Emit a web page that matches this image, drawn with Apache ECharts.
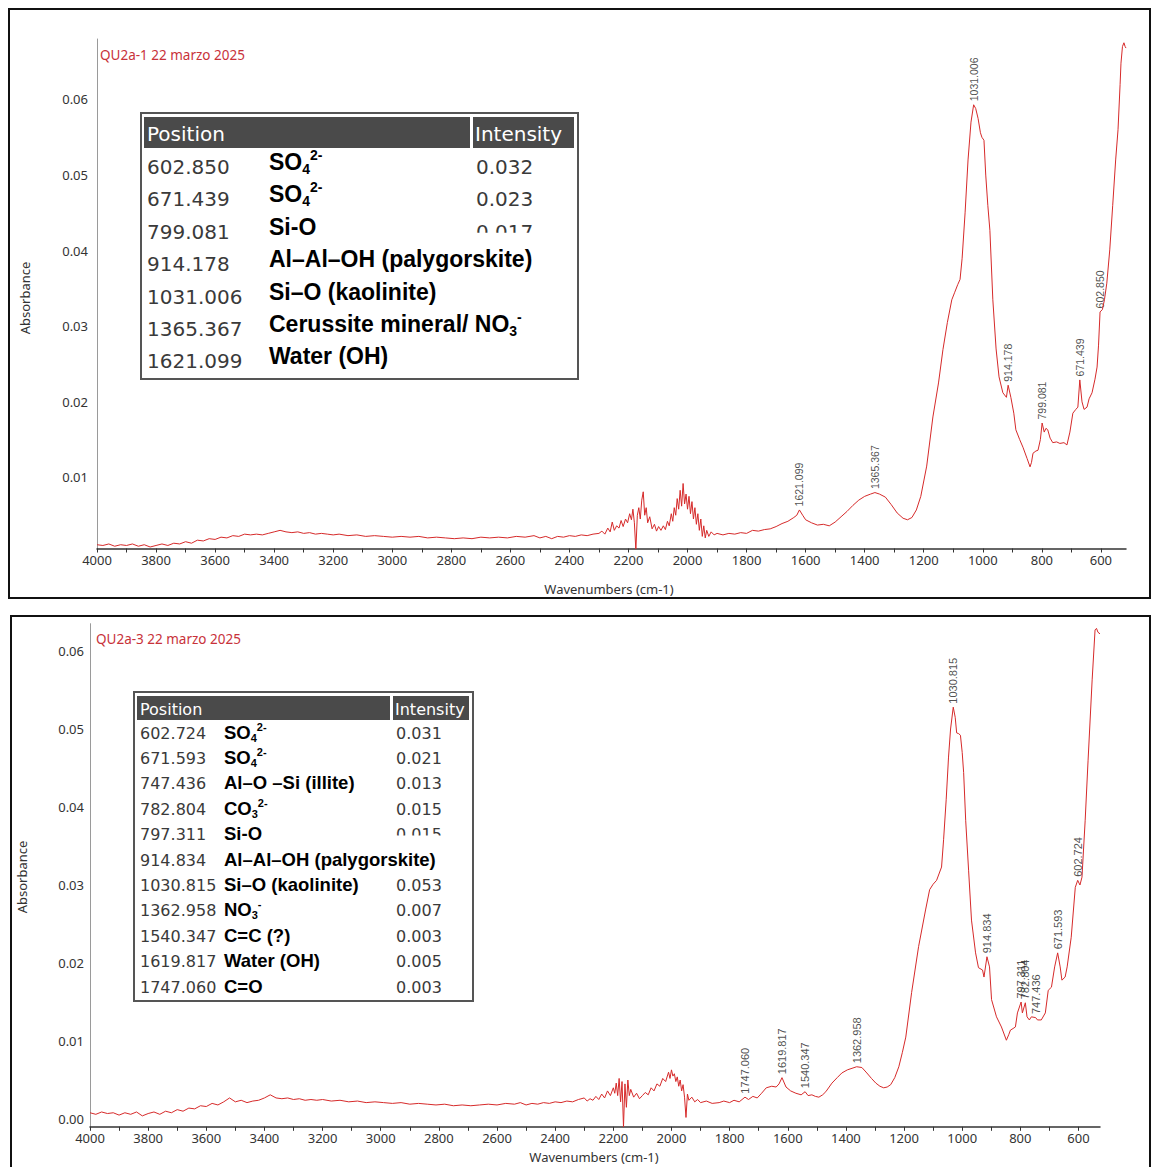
<!DOCTYPE html>
<html><head><meta charset="utf-8">
<script src="https://cdn.jsdelivr.net/npm/echarts@6/dist/echarts.min.js"></script>
<style>html,body{margin:0;padding:0;background:#fff}#c{width:1151px;height:1167px}</style>
</head><body><div id="c"></div>
<script>
// ---------- text ----------
const topTitle = 'QU2a-1 22 marzo 2025';
const botTitle = 'QU2a-3 22 marzo 2025';
const xAxisTitle = 'Wavenumbers (cm-1)';
const yAxisTitle = 'Absorbance';
const xTickLabels = [4000,3800,3600,3400,3200,3000,2800,2600,2400,2200,2000,1800,1600,1400,1200,1000,800,600];
const xTickMarks = [4000,3900,3800,3700,3600,3500,3400,3300,3200,3100,3000,2900,2800,2700,2600,2500,2400,2300,2200,2100,2000,1900,1800,1700,1600,1500,1400,1300,1200,1100,1000,900,800,700,600];
const yTickLabelsTop = [0.01,0.02,0.03,0.04,0.05,0.06];
const yTickLabelsBot = [0,0.01,0.02,0.03,0.04,0.05,0.06];

// ---------- spectrum QU2a-1 [wavenumber, absorbance] ----------
const topSpectrum = [
[4000,0.0011],[3980,0.0010],[3960,0.0012],[3940,0.0009],[3920,0.0011],[3900,0.0010],[3880,0.0012],[3860,0.0009],[3840,0.0011],[3820,0.0008],
[3800,0.0010],[3780,0.0012],[3760,0.0010],[3740,0.0013],[3720,0.0012],[3700,0.0015],[3680,0.0013],[3660,0.0017],[3640,0.0016],[3620,0.0019],
[3600,0.0018],[3580,0.0021],[3560,0.0020],[3540,0.0023],[3520,0.0022],[3500,0.0025],[3480,0.0024],[3460,0.0025],[3440,0.0024],[3420,0.0026],
[3400,0.0028],[3380,0.0030],[3360,0.0028],[3340,0.0027],[3320,0.0028],[3300,0.0026],[3280,0.0027],[3260,0.0025],[3240,0.0026],[3220,0.0025],
[3200,0.0024],[3180,0.0025],[3150,0.0023],[3120,0.0024],[3090,0.0022],[3060,0.0023],[3030,0.0022],[3000,0.0021],[2970,0.0022],[2940,0.0021],
[2910,0.0022],[2880,0.0020],[2850,0.0021],[2820,0.0020],[2790,0.0019],[2760,0.0020],[2730,0.0019],[2700,0.0021],[2670,0.0020],[2640,0.0021],
[2610,0.0020],[2580,0.0022],[2550,0.0021],[2520,0.0023],[2500,0.0020],[2480,0.0022],[2460,0.0019],[2440,0.0022],[2420,0.0021],[2400,0.0023],
[2380,0.0022],[2360,0.0024],[2340,0.0023],[2320,0.0025],[2300,0.0026],[2290,0.0029],[2280,0.0025],[2270,0.0033],[2262,0.0028],[2255,0.0041],
[2248,0.0030],[2240,0.0036],[2232,0.0033],[2225,0.0043],[2218,0.0035],[2210,0.0045],[2203,0.0040],[2196,0.0052],[2190,0.0044],[2185,0.0058],
[2180,0.0040],[2175,0.0004],[2170,0.0050],[2165,0.0060],[2160,0.0045],[2155,0.0070],[2150,0.0081],[2145,0.0050],[2140,0.0060],[2135,0.0040],
[2128,0.0048],[2120,0.0032],[2112,0.0038],[2105,0.0029],[2098,0.0035],[2090,0.0030],[2082,0.0036],[2075,0.0031],[2068,0.0042],[2062,0.0036],
[2055,0.0052],[2050,0.0042],[2045,0.0060],[2040,0.0050],[2035,0.0072],[2030,0.0058],[2025,0.0083],[2020,0.0062],[2015,0.0092],[2010,0.0065],
[2005,0.0078],[2000,0.0058],[1995,0.0075],[1990,0.0052],[1985,0.0068],[1980,0.0045],[1975,0.0060],[1970,0.0038],[1965,0.0052],[1960,0.0030],
[1955,0.0045],[1950,0.0022],[1945,0.0036],[1940,0.0020],[1935,0.0030],[1928,0.0022],[1920,0.0028],[1910,0.0024],[1900,0.0026],[1880,0.0024],
[1860,0.0026],[1840,0.0025],[1820,0.0027],[1800,0.0026],[1780,0.0030],[1760,0.0029],[1740,0.0031],[1720,0.0032],[1700,0.0035],[1680,0.0039],
[1660,0.0042],[1640,0.0047],[1630,0.0050],[1621.099,0.0057],[1610,0.0050],[1600,0.0044],[1580,0.0040],[1560,0.0037],[1540,0.0038],[1520,0.0036],
[1500,0.0041],[1480,0.0048],[1460,0.0055],[1440,0.0063],[1420,0.0070],[1400,0.0075],[1380,0.0078],[1365.367,0.0080],[1350,0.0078],[1330,0.0074],
[1310,0.0064],[1290,0.0053],[1270,0.0046],[1255,0.0044],[1240,0.0047],[1225,0.0057],[1210,0.0075],[1190,0.0115],[1169,0.0180],[1150,0.0225],
[1135,0.0269],[1120,0.0305],[1105,0.0335],[1095,0.0345],[1085,0.0355],[1077,0.0362],[1070,0.0390],[1060,0.0450],[1050,0.0520],[1040,0.0570],
[1031.006,0.0593],[1024,0.0588],[1016,0.0575],[1008,0.0556],[1003,0.0550],[996,0.0546],[990,0.0500],[983,0.0460],[976,0.0427],[966,0.0335],
[955,0.0270],[945,0.0233],[932,0.0212],[920,0.0206],[914.178,0.0222],[905,0.0206],[895,0.0185],[888,0.0163],[875,0.0150],[864,0.0140],
[850,0.0125],[840,0.0114],[835,0.0120],[830,0.0132],[820,0.0135],[813,0.0136],[805,0.0150],[799.081,0.0172],[792,0.0160],[786,0.0165],
[780,0.0163],[772,0.0152],[763,0.0146],[750,0.0147],[739,0.0145],[725,0.0146],[715,0.0143],[705,0.0160],[695,0.0185],[685,0.0190],
[678,0.0193],[671.439,0.0229],[664,0.0200],[657,0.0190],[647,0.0193],[640,0.0204],[630,0.0212],[620,0.0230],[613,0.0246],[608,0.0275],
[602.85,0.0319],[595,0.0322],[588,0.0335],[580,0.0357],[570,0.0401],[560,0.0460],[550,0.0520],[542,0.0560],[535,0.0620],[532,0.0648],
[527,0.0670],[522,0.0675],[518,0.0670],[515,0.0668]
];

// ---------- spectrum QU2a-3 [wavenumber, absorbance] ----------
const botSpectrum = [
[4000,0.0008],[3980,0.0006],[3960,0.0009],[3940,0.0007],[3920,0.0008],[3900,0.0005],[3880,0.0008],[3860,0.0006],[3840,0.0009],[3820,0.0004],
[3800,0.0007],[3780,0.0009],[3760,0.0006],[3740,0.0010],[3720,0.0008],[3700,0.0012],[3680,0.0010],[3660,0.0014],[3640,0.0013],[3620,0.0017],
[3600,0.0016],[3580,0.0020],[3560,0.0018],[3540,0.0022],[3520,0.0027],[3500,0.0022],[3480,0.0024],[3460,0.0021],[3440,0.0023],[3420,0.0024],
[3400,0.0027],[3380,0.0031],[3360,0.0027],[3340,0.0026],[3320,0.0027],[3300,0.0025],[3280,0.0026],[3260,0.0024],[3240,0.0025],[3220,0.0024],
[3200,0.0025],[3170,0.0023],[3140,0.0024],[3110,0.0022],[3080,0.0023],[3050,0.0021],[3020,0.0022],[2990,0.0021],[2960,0.0020],[2930,0.0021],
[2900,0.0019],[2870,0.0020],[2840,0.0019],[2810,0.0018],[2780,0.0019],[2750,0.0017],[2720,0.0018],[2690,0.0017],[2660,0.0018],[2630,0.0019],
[2600,0.0018],[2570,0.0020],[2540,0.0019],[2520,0.0021],[2500,0.0018],[2480,0.0020],[2460,0.0019],[2440,0.0021],[2420,0.0020],[2400,0.0022],
[2380,0.0021],[2360,0.0023],[2340,0.0022],[2320,0.0025],[2300,0.0027],[2290,0.0023],[2280,0.0026],[2270,0.0024],[2260,0.0029],[2250,0.0025],
[2240,0.0032],[2230,0.0027],[2220,0.0036],[2210,0.0030],[2200,0.0040],[2195,0.0033],[2190,0.0046],[2185,0.0030],[2180,0.0052],[2175,0.0022],
[2170,0.0048],[2165,-0.0010],[2160,0.0045],[2155,0.0015],[2150,0.0050],[2145,0.0030],[2140,0.0038],[2130,0.0028],[2120,0.0033],[2110,0.0026],
[2100,0.0030],[2090,0.0034],[2080,0.0031],[2070,0.0040],[2060,0.0036],[2050,0.0045],[2040,0.0042],[2030,0.0052],[2020,0.0048],[2010,0.0060],
[2005,0.0052],[2000,0.0063],[1995,0.0055],[1990,0.0058],[1985,0.0048],[1980,0.0054],[1975,0.0042],[1970,0.0050],[1965,0.0036],[1960,0.0044],
[1955,0.0028],[1950,0.0002],[1945,0.0032],[1940,0.0024],[1930,0.0028],[1920,0.0022],[1910,0.0025],[1900,0.0021],[1880,0.0023],[1860,0.0020],
[1836,0.0021],[1820,0.0023],[1800,0.0021],[1785,0.0024],[1767,0.0022],[1747.06,0.0028],[1735,0.0025],[1720,0.0029],[1705,0.0027],[1690,0.0033],
[1674,0.0040],[1655,0.0042],[1640,0.0041],[1630,0.0045],[1619.817,0.0053],[1606,0.0041],[1590,0.0036],[1572,0.0033],[1554,0.0031],[1540.347,0.0035],
[1530,0.0030],[1517,0.0031],[1505,0.0029],[1493,0.0028],[1480,0.0031],[1469,0.0035],[1448,0.0046],[1430,0.0053],[1414,0.0059],[1395,0.0063],
[1379,0.0065],[1362.958,0.0067],[1345,0.0066],[1328,0.0059],[1312,0.0052],[1297,0.0046],[1283,0.0042],[1270,0.0040],[1258,0.0041],[1246,0.0044],
[1232,0.0053],[1218,0.0067],[1206,0.0085],[1194,0.0105],[1174,0.0162],[1150,0.0221],[1126,0.0268],[1112,0.0294],[1100,0.0301],[1088,0.0306],
[1071,0.0323],[1064,0.0358],[1055,0.0410],[1047,0.0464],[1040,0.0500],[1030.815,0.0528],[1024,0.0515],[1019,0.0495],[1012,0.0494],[1006,0.0492],
[1000,0.0470],[995,0.0444],[988,0.0383],[978,0.0319],[968,0.0255],[954,0.0213],[944,0.0194],[930,0.0191],[925,0.0182],[914.834,0.0208],
[906,0.0195],[899,0.0153],[882,0.0131],[865,0.0118],[848,0.0101],[840,0.0108],[834,0.0114],[825,0.0116],[817,0.0118],[810,0.0136],
[797.311,0.0150],[793,0.0136],[782.804,0.0149],[777,0.0131],[769,0.0127],[762,0.0131],[747.436,0.0130],[741,0.0127],[728,0.0127],[714,0.0136],
[704,0.0165],[693,0.0169],[682,0.0195],[671.593,0.0213],[663,0.0195],[657,0.0178],[646,0.0182],[639,0.0195],[625,0.0233],[611,0.0297],
[602.724,0.0306],[595,0.0300],[588,0.0310],[577,0.0383],[567,0.0460],[553,0.0563],[543,0.0627],[538,0.0629],[533,0.0624],[526,0.0622]
];

// ---------- labelled peaks ----------
const topPeakWn  = [1621.099, 1365.367, 1031.006, 914.178, 799.081, 671.439, 602.850];
const topPeakAbs = [0.0057, 0.0080, 0.0593, 0.0222, 0.0172, 0.0229, 0.0319];
const botPeakWn  = [1747.060, 1619.817, 1540.347, 1362.958, 1030.815, 914.834, 797.311, 782.804, 747.436, 671.593, 602.724];
const botPeakAbs = [0.0028, 0.0053, 0.0035, 0.0067, 0.0528, 0.0208, 0.0150, 0.0149, 0.0130, 0.0213, 0.0306];

// ---------- tables ----------
const tableHeader = ['Position', 'Intensity'];
const topTablePos = ['602.850','671.439','799.081','914.178','1031.006','1365.367','1621.099'];
const topTableAssign = ['SO{sub|4}{sup|2-}','SO{sub|4}{sup|2-}','Si-O','Al–Al–OH (palygorskite)','Si–O (kaolinite)','Cerussite mineral/ NO{sub|3}{sup|-}','Water (OH)'];
const topTableInt = ['0.032','0.023','0.017','','','',''];
const botTablePos = ['602.724','671.593','747.436','782.804','797.311','914.834','1030.815','1362.958','1540.347','1619.817','1747.060'];
const botTableAssign = ['SO{sub|4}{sup|2-}','SO{sub|4}{sup|2-}','Al–O –Si (illite)','CO{sub|3}{sup|2-}','Si-O','Al–Al–OH (palygorskite)','Si–O (kaolinite)','NO{sub|3}{sup|-}','C=C (?)','Water (OH)','C=O'];
const botTableInt = ['0.031','0.021','0.013','0.015','0.015','','0.053','0.007','0.003','0.005','0.003'];

// ---------- build ----------
const RED = '#d62a2a';
const TICKFONT = '"Noto Sans", "Open Sans", sans-serif';

function xAxisDef(gi, min) {
  return {
    type: 'value', gridIndex: gi, inverse: true, min: min, max: 4000,
    splitLine: {show: false},
    axisLine: {show: true, onZero: false, lineStyle: {color: '#333', width: 1.5}},
    axisTick: {show: true, customValues: xTickMarks, length: 4, lineStyle: {color: '#333'}},
    axisLabel: {customValues: xTickLabels, margin: 5, fontSize: 13, color: '#333', fontFamily: TICKFONT,
      formatter: v => String(v)}
  };
}
function yAxisDef(gi, min, max, labels, margin) {
  return {
    type: 'value', gridIndex: gi, min: min, max: max,
    splitLine: {show: false},
    axisLine: {show: true, onZero: false, lineStyle: {color: '#9a9a9a', width: 1}},
    axisTick: {show: false, customValues: labels},
    axisLabel: {customValues: labels, margin: margin, fontSize: 13, color: '#333', fontFamily: TICKFONT,
      formatter: v => v.toFixed(2)}
  };
}
function peakSeries(xi, wn, ab, fs) {
  return {
    type: 'scatter', xAxisIndex: xi, yAxisIndex: xi, silent: true,
    symbol: 'circle', symbolSize: 1, itemStyle: {color: 'rgba(0,0,0,0)'},
    data: wn.map((w, i) => [w, ab[i]]),
    label: {show: true, position: 'top', distance: 3, rotate: 90, align: 'left', verticalAlign: 'middle',
      fontSize: fs, fontFamily: '"Liberation Sans", Arial, sans-serif', color: '#222',
      formatter: p => p.value[0].toFixed(3)}
  };
}

const subStyle = (fs) => ({fontSize: fs, fontWeight: 'bold', fontFamily: '"Liberation Sans", Arial, sans-serif', fill: '#000', verticalAlign: 'bottom', lineHeight: Math.round(fs*1.05)});
const supStyle = (fs) => ({fontSize: fs, fontWeight: 'bold', fontFamily: '"Liberation Sans", Arial, sans-serif', fill: '#000', verticalAlign: 'top', lineHeight: Math.round(fs*1.05)});

function tableGraphics(cfg, pos, assign, ints, clipRow) {
  const els = [];
  els.push({type: 'rect', shape: {x: cfg.x, y: cfg.y, width: cfg.w, height: cfg.h},
    style: {fill: '#fff', stroke: '#555', lineWidth: 2}, z: 10});
  els.push({type: 'rect', shape: {x: cfg.x + 3, y: cfg.y + 4, width: cfg.divX - cfg.x - 4, height: cfg.hh},
    style: {fill: '#4a4a4a'}, z: 11});
  els.push({type: 'rect', shape: {x: cfg.divX + 2, y: cfg.y + 4, width: cfg.x + cfg.w - cfg.divX - 6, height: cfg.hh},
    style: {fill: '#4a4a4a'}, z: 11});
  els.push({type: 'text', z: 12, style: {text: tableHeader[0], x: cfg.x + 6, y: cfg.y + 4 + cfg.hh/2 + 1, fill: '#fff',
    fontSize: cfg.hfs, fontFamily: '"DejaVu Sans", sans-serif', verticalAlign: 'middle', align: 'left'}});
  els.push({type: 'text', z: 12, style: {text: tableHeader[1], x: cfg.divX + 4, y: cfg.y + 4 + cfg.hh/2 + 1, fill: '#fff',
    fontSize: cfg.hfs, fontFamily: '"DejaVu Sans", sans-serif', verticalAlign: 'middle', align: 'left'}});
  pos.forEach((p, i) => {
    const y = cfg.row0 + i * cfg.rowH;
    els.push({type: 'text', z: 12, style: {text: p, x: cfg.x + 6, y: y, fill: '#3a3a3a',
      fontSize: cfg.nfs, fontFamily: '"DejaVu Sans", sans-serif', verticalAlign: 'middle', align: 'left'}});
    els.push({type: 'text', z: 12, style: {text: assign[i], x: cfg.labX, y: y + cfg.labDy, fill: '#000',
      fontSize: cfg.lfs, fontWeight: 'bold', fontFamily: '"Liberation Sans", Arial, sans-serif',
      verticalAlign: 'middle', align: 'left', lineHeight: Math.round(cfg.lfs * 1.2),
      rich: {sub: subStyle(Math.round(cfg.lfs*0.6)), sup: supStyle(Math.round(cfg.lfs*0.6))}}});
    if (ints[i]) {
      els.push({type: 'text', z: 12, style: {text: ints[i], x: cfg.divX + 5, y: y, fill: '#3a3a3a',
        fontSize: cfg.nfs, fontFamily: '"DejaVu Sans", sans-serif', verticalAlign: 'middle', align: 'left'}});
    }
  });
  // partially hidden intensity cell (as in the reference)
  const cy = cfg.row0 + clipRow * cfg.rowH;
  els.push({type: 'rect', z: 13, shape: {x: cfg.divX + 3, y: cy + 1, width: cfg.nfs * 3.4, height: cfg.nfs * 0.6},
    style: {fill: '#fff'}});
  return els;
}

const topTableCfg = {x: 141, y: 113, w: 437, h: 266, divX: 471, hh: 31, hfs: 20, nfs: 20, lfs: 23, row0: 167, rowH: 32.4, labX: 269, labDy: -5};
const botTableCfg = {x: 134, y: 692, w: 339, h: 309, divX: 391, hh: 24, hfs: 16, nfs: 16, lfs: 18.5, row0: 733, rowH: 25.4, labX: 224, labDy: -1};

const graphics = [
  {type: 'rect', shape: {x: 9, y: 9, width: 1141, height: 589}, style: {fill: 'none', stroke: '#111', lineWidth: 2}, z: 1},
  {type: 'rect', shape: {x: 11, y: 616, width: 1139, height: 570}, style: {fill: 'none', stroke: '#111', lineWidth: 2}, z: 1},
  {type: 'text', style: {text: topTitle, x: 100, y: 55, fill: '#c8323a', fontSize: 13.5, fontFamily: TICKFONT, verticalAlign: 'middle'}},
  {type: 'text', style: {text: botTitle, x: 96, y: 639, fill: '#c8323a', fontSize: 13.5, fontFamily: TICKFONT, verticalAlign: 'middle'}},
  {type: 'text', style: {text: xAxisTitle, x: 609, y: 589, fill: '#333', fontSize: 13, fontFamily: TICKFONT, align: 'center', verticalAlign: 'middle'}},
  {type: 'text', style: {text: xAxisTitle, x: 594, y: 1157, fill: '#333', fontSize: 13, fontFamily: TICKFONT, align: 'center', verticalAlign: 'middle'}},
  {type: 'text', x: 25, y: 298, rotation: Math.PI/2, style: {text: yAxisTitle, x: 0, y: 0, fill: '#333', fontSize: 13, fontFamily: TICKFONT, align: 'center', verticalAlign: 'middle'}},
  {type: 'text', x: 22, y: 877, rotation: Math.PI/2, style: {text: yAxisTitle, x: 0, y: 0, fill: '#333', fontSize: 13, fontFamily: TICKFONT, align: 'center', verticalAlign: 'middle'}}
].concat(tableGraphics(topTableCfg, topTablePos, topTableAssign, topTableInt, 2))
 .concat(tableGraphics(botTableCfg, botTablePos, botTableAssign, botTableInt, 4));

const chart = echarts.init(document.getElementById('c'), null, {renderer: 'svg'});
chart.setOption({
  animation: false,
  backgroundColor: '#fff',
  grid: [
    {left: 97, top: 39, width: 1029, height: 509.5},
    {left: 90, top: 623.7, width: 1010, height: 503.1}
  ],
  xAxis: [xAxisDef(0, 515), xAxisDef(1, 526)],
  yAxis: [yAxisDef(0, 0.0006, 0.068, yTickLabelsTop, 9), yAxisDef(1, -0.001, 0.0635, yTickLabelsBot, 6)],
  series: [
    {type: 'line', xAxisIndex: 0, yAxisIndex: 0, data: topSpectrum, showSymbol: false, silent: true,
      lineStyle: {color: RED, width: 1}},
    {type: 'line', xAxisIndex: 1, yAxisIndex: 1, data: botSpectrum, showSymbol: false, silent: true,
      lineStyle: {color: RED, width: 1}},
    peakSeries(0, topPeakWn, topPeakAbs, 10.5),
    peakSeries(1, botPeakWn, botPeakAbs, 11)
  ],
  graphic: graphics
});
</script></body></html>
